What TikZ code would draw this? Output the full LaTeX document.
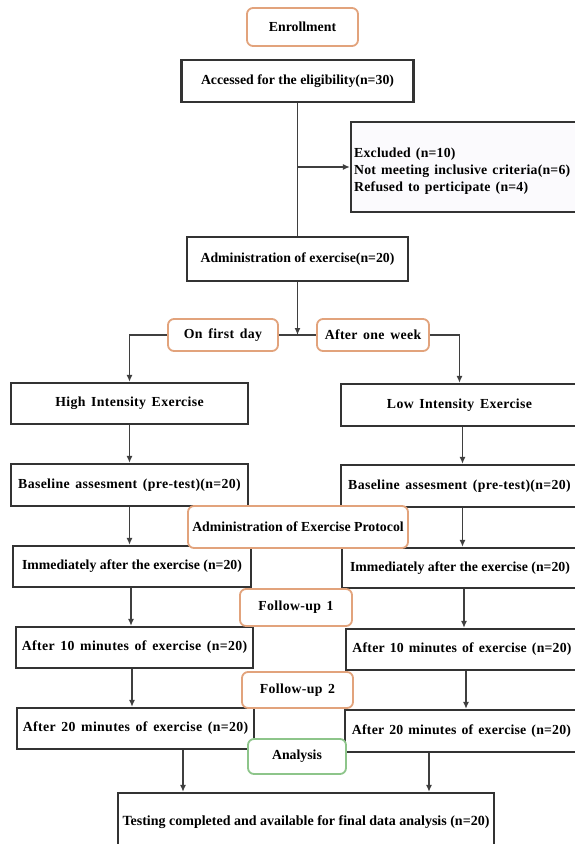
\documentclass[tikz,border=0pt]{standalone}
\usepackage{fontspec}
\setmainfont{Liberation Serif}
\newfontfamily\widefont{Liberation Serif}[LetterSpace=2.5,WordSpace=1.5]
\newfontfamily\midfont{Liberation Serif}[LetterSpace=1.5,WordSpace=1.4]
\usetikzlibrary{arrows.meta}
\definecolor{boxline}{HTML}{333333}
\definecolor{conn}{HTML}{3F3F3F}
\definecolor{orangeb}{HTML}{E2A37C}
\definecolor{greenb}{HTML}{8DC58A}
\definecolor{exfill}{HTML}{FBFAFD}
\begin{document}
\begin{tikzpicture}[x=1pt,y=-1pt,
  every node/.style={font=\fontsize{13.8}{17}\selectfont\bfseries, inner sep=0pt, text=black},
  wide/.style={font=\fontsize{13.8}{17}\selectfont\widefont\bfseries},
  mid/.style={font=\fontsize{13.8}{17}\selectfont\midfont\bfseries},
  sbox/.style={draw=boxline, line width=2.2pt, fill=white, minimum height=41pt, minimum width=237pt},
  obox/.style={draw=orangeb, line width=1.8pt, rounded corners=6pt, fill=white},
  gbox/.style={draw=greenb, line width=1.8pt, rounded corners=6pt, fill=white},
  arr/.style={draw=conn, line width=1.8pt, -{Latex[length=7pt,width=6pt]}},
  ln/.style={draw=conn, line width=1.8pt}]
\useasboundingbox (0,0) rectangle (575,844);
\clip (0,0) rectangle (575,844);

% main boxes
\node[obox, minimum width=111pt, minimum height=38pt] (enroll) at (302.5,27) {Enrollment};
\node[sbox, minimum width=232pt, minimum height=42pt] (access) at (297.5,81) {Accessed for the eligibility(n=30)};
\node[draw=boxline, line width=2.2pt, fill=exfill, minimum width=232pt, minimum height=90pt] (excl) at (467,167) {};
\node[mid, anchor=west, align=left] (excltext) at (354,171) {Excluded (n=10)\\Not meeting inclusive criteria(n=6)\\Refused to perticipate (n=4)};
\node[sbox, minimum width=221pt, minimum height=44pt] (adm) at (297.5,259) {Administration of exercise(n=20)};
\node[obox, wide, minimum width=110pt, minimum height=32pt] (first) at (223,335) {On first day};
\node[obox, wide, minimum width=112pt, minimum height=32pt] (week) at (373,335) {After one week};
\node[sbox, wide] (high) at (129.5,403.5) {High Intensity Exercise};
\node[sbox, wide, minimum height=42pt] (low) at (459.5,405) {Low Intensity Exercise};
\node[sbox, wide, minimum height=42pt] (baseL) at (129.5,485) {Baseline assesment (pre-test)(n=20)};
\node[sbox, wide, minimum height=42pt] (baseR) at (459.5,486) {Baseline assesment (pre-test)(n=20)};
\node[sbox, minimum width=238pt] (immL) at (132,566.5) {Immediately after the exercise (n=20)};
\node[sbox, minimum width=236pt, minimum height=40pt] (immR) at (460,568) {Immediately after the exercise (n=20)};
\node[sbox, wide] (tenL) at (134.5,647.5) {After 10 minutes of exercise (n=20)};
\node[sbox, mid, minimum width=232pt] (tenR) at (462,649.5) {After 10 minutes of exercise (n=20)};
\node[sbox, wide] (twL) at (135.5,728.5) {After 20 minutes of exercise (n=20)};
\node[sbox, mid, minimum width=233pt, minimum height=42pt] (twR) at (461.5,731) {After 20 minutes of exercise (n=20)};
\node[sbox, minimum width=376pt, minimum height=60pt, font=\fontsize{14}{16}\selectfont\bfseries] (test) at (306,823) {\raisebox{4pt}{Testing completed and available for final data analysis (n=20)}};

% connectors
\coordinate (cl) at (183,0);
\coordinate (cr) at (429,0);
\draw[ln] (access.south) -- (adm.north);
\draw[arr] (access.south |- excl.west) -- (excl.west);
\draw[arr] (adm.south) -- (adm.south |- first.east);
\draw[ln] (first.east) -- (week.west);
\draw[arr] (first.west) -| (high.north);
\draw[arr] (week.east) -| (low.north);
\draw[arr] (high.south) -- (baseL.north);
\draw[arr] ([xshift=3pt]low.south) -- ([xshift=3pt]low.south |- baseR.north);
\draw[arr] (baseL.south) -- (baseL.south |- immL.north);
\draw[arr] ([xshift=3pt]baseR.south) -- ([xshift=3pt]baseR.south |- immR.north);
\draw[arr] ([xshift=-1pt]immL.south) -- ([xshift=-1pt]immL.south |- tenL.north);
\draw[arr] ([xshift=4pt]immR.south) -- ([xshift=4pt]immR.south |- tenR.north);
\draw[arr] ([xshift=-2.5pt]tenL.south) -- ([xshift=-2.5pt]tenL.south |- twL.north);
\draw[arr] ([xshift=4pt]tenR.south) -- ([xshift=4pt]tenR.south |- twR.north);
\draw[arr] (twL.south -| cl) -- (test.north -| cl);
\draw[arr] (twR.south -| cr) -- (test.north -| cr);

% overlay labels
\node[obox, minimum width=220pt, minimum height=42pt] (proto) at (298,527) {Administration of Exercise Protocol};
\node[obox, wide, minimum width=112pt, minimum height=37pt] (fu1) at (296,607.5) {Follow-up 1};
\node[obox, wide, minimum width=111pt, minimum height=36pt] (fu2) at (297.5,690) {Follow-up 2};
\node[gbox, minimum width=98pt, minimum height=35pt] (ana) at (297,756.5) {Analysis};
\end{tikzpicture}
\end{document}
